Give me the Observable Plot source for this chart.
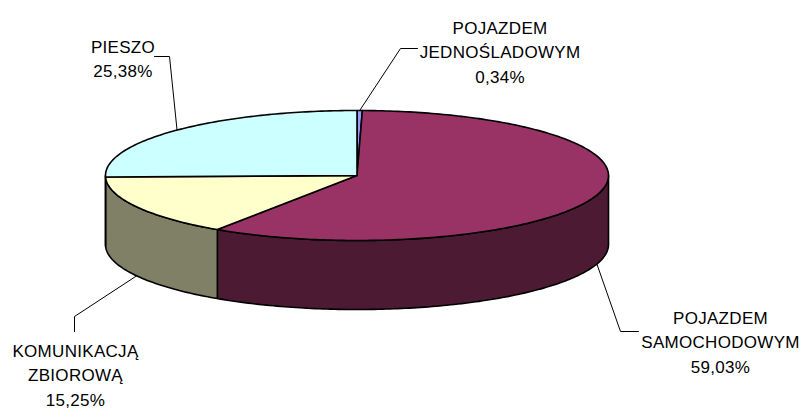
<!DOCTYPE html>
<html><head><meta charset="utf-8">
<script src="https://cdn.jsdelivr.net/npm/d3@7"></script>
<script src="https://cdn.jsdelivr.net/npm/@observablehq/plot@0.6"></script>
<style>body{margin:0;background:#fff} svg text{letter-spacing:0.3px}</style>
</head><body><div id="chart"></div>
<script>
// ---- data ----
const categories = ["POJAZDEM JEDNOŚLADOWYM", "POJAZDEM SAMOCHODOWYM", "KOMUNIKACJĄ ZBIOROWĄ", "PIESZO"];
const labelLines = [["POJAZDEM", "JEDNOŚLADOWYM"], ["POJAZDEM", "SAMOCHODOWYM"], ["KOMUNIKACJĄ", "ZBIOROWĄ"], ["PIESZO"]];
const values = [0.34, 59.03, 15.25, 25.38];
const valueLabels = ["0,34%", "59,03%", "15,25%", "25,38%"];

// ---- styles ----
const topColors = ["#9999FF", "#993366", "#FFFFCC", "#CCFFFF"];
const sideColors = ["#4D4D80", "#4D1A33", "#808066", "#668080"];

// ---- layout ----
const W = 806, H = 412;
const cx = 356.5, cy = 175, rx = 251.5, ry = 65, depth = 69;
const labelLayout = [
  {x: 499.5, y: 16, elbow: [[417, 48], [400, 48]]},
  {x: 720, y: 306, elbow: [[638, 331], [620, 331]]},
  {x: 75, y: 339, elbow: [[74, 331], [74, 316]]},
  {x: 122.5, y: 35, elbow: [[154, 56], [169, 56]]}
];

const total = d3.sum(values);
const pt = (a, dz = 0) => [cx + rx * Math.sin(a), cy - ry * Math.cos(a) + dz];
const arc = (a0, a1, dz = 0) => {
  const n = Math.max(2, Math.ceil((a1 - a0) / (2 * Math.PI) * 400));
  return d3.range(n + 1).map(k => pt(a0 + (a1 - a0) * k / n, dz));
};

const slices = [];
let acc = 0;
values.forEach((v, i) => {
  const a0 = acc / total * 2 * Math.PI;
  acc += v;
  const a1 = acc / total * 2 * Math.PI;
  slices.push({i, a0, a1, mid: (a0 + a1) / 2});
});

const sideRows = [], topRows = [];
slices.forEach(s => {
  const b0 = Math.max(s.a0, Math.PI / 2), b1 = Math.min(s.a1, 3 * Math.PI / 2);
  if (b1 > b0) {
    const poly = [...arc(b0, b1), ...arc(b0, b1, depth).reverse()];
    poly.push(poly[0]);
    poly.forEach(([x, y]) => sideRows.push({id: "s" + s.i, color: sideColors[s.i], x, y}));
  }
  const poly = [[cx, cy], ...arc(s.a0, s.a1), [cx, cy]];
  poly.forEach(([x, y]) => topRows.push({id: "t" + s.i, color: topColors[s.i], x, y}));
});

const leaderRows = [], textRows = [];
slices.forEach(s => {
  const L = labelLayout[s.i];
  const anchor = pt(s.mid, Math.cos(s.mid) < 0 ? depth : 0);
  [...L.elbow, anchor].forEach(([x, y]) => leaderRows.push({id: s.i, x, y}));
  textRows.push({x: L.x, y: L.y, text: [...labelLines[s.i], valueLabels[s.i]].join("\n")});
});

const chart = Plot.plot({
  width: W, height: H,
  margin: 0,
  x: {domain: [0, W], range: [0, W], axis: null},
  y: {domain: [0, H], range: [0, H], axis: null},
  color: {type: "identity"},
  marks: [
    Plot.line(sideRows, {x: "x", y: "y", z: "id", fill: "color", stroke: "#000", strokeWidth: 1.6, strokeLinejoin: "round", curve: "linear"}),
    Plot.line(topRows, {x: "x", y: "y", z: "id", fill: "color", stroke: "#000", strokeWidth: 1.6, strokeLinejoin: "round", curve: "linear"}),
    Plot.line(leaderRows, {x: "x", y: "y", z: "id", stroke: "#000", strokeWidth: 1}),
    Plot.text(textRows, {x: "x", y: "y", text: "text", textAnchor: "middle", lineAnchor: "top",
      lineHeight: 24.5 / 17, fontSize: 17, fontFamily: "Arial, 'Liberation Sans', sans-serif", fill: "#000"})
  ]
});
chart.style.background = "#fff";
document.getElementById("chart").append(chart);
</script>
</body></html>
